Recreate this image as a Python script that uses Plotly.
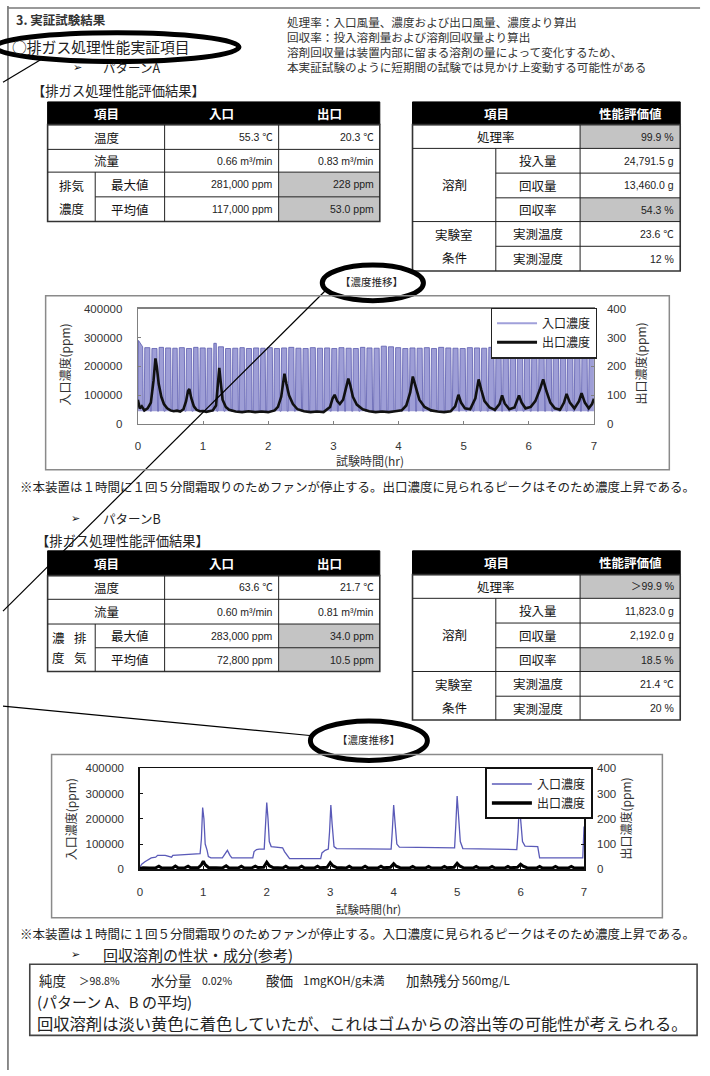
import plotly.graph_objects as go

W, H = 710, 1076
JP = "Noto Sans CJK JP"
LAT = "Liberation Sans, Noto Sans CJK JP"
SYM = "DejaVu Sans"

# ------------------------------------------------------------------ DATA
x_ticks = [0, 1, 2, 3, 4, 5, 6, 7]
left_ticks = [0, 100000, 200000, 300000, 400000]
left_tick_text = ["0", "100000", "200000", "300000", "400000"]
right_ticks = [0, 100, 200, 300, 400]
right_tick_text = ["0", "100", "200", "300", "400"]

# Pattern A inlet (ppm): times (hr) of the short drops and plateau level between drops
a_in_start = [(0.00, 60000), (0.01, 290000)]
a_in_dips = [0.09, 0.20, 0.31, 0.41, 0.52, 0.62, 0.73, 0.84, 0.94, 1.05,
             1.15, 1.22, 1.33, 1.44, 1.55, 1.65, 1.76, 1.87, 1.97, 2.08,
             2.19, 2.30, 2.41, 2.52, 2.63, 2.74, 2.85, 2.96, 3.07, 3.18,
             3.29, 3.40, 3.50, 3.61, 3.72, 3.83, 3.94, 4.05, 4.16, 4.27,
             4.38, 4.49, 4.60, 4.71, 4.82, 4.93, 5.04, 5.15, 5.26, 5.37,
             5.48, 5.59, 5.70, 5.81, 5.92, 6.03, 6.14, 6.25, 6.36, 6.47,
             6.58, 6.69, 6.80, 6.91]
a_in_high = [268000, 265000, 262000, 266000, 264000, 263000, 265000, 262000, 266000, 264000,
             263000, 280000, 268000, 262000, 263000, 265000, 262000, 264000, 263000, 265000,
             262000, 264000, 266000, 263000, 262000, 265000, 263000, 264000, 262000, 265000,
             263000, 262000, 266000, 264000, 263000, 270000, 268000, 265000, 262000, 264000,
             263000, 265000, 262000, 266000, 264000, 263000, 262000, 265000, 264000, 263000,
             266000, 262000, 264000, 265000, 263000, 262000, 264000, 266000, 263000, 262000,
             265000, 264000, 263000, 262000, 265000]
a_in_low = 45000

# Pattern A outlet (ppm)
a_out_pts = [(0.00, 85), (0.03, 55), (0.06, 62), (0.10, 48), (0.15, 55), (0.20, 75), (0.24, 150),
             (0.27, 228), (0.29, 200), (0.32, 140), (0.36, 95), (0.40, 70), (0.45, 55), (0.50, 48),
             (0.55, 45), (0.60, 47), (0.65, 44), (0.70, 52), (0.74, 80), (0.77, 115), (0.79, 122),
             (0.82, 90), (0.86, 62), (0.90, 50), (0.95, 45), (1.00, 46), (1.05, 43), (1.10, 45),
             (1.15, 48), (1.20, 65), (1.23, 130), (1.25, 195), (1.27, 150), (1.30, 85), (1.35, 60),
             (1.40, 50), (1.50, 44), (1.60, 42), (1.70, 45), (1.80, 42), (1.90, 44), (2.00, 42),
             (2.10, 48), (2.15, 60), (2.20, 95), (2.23, 150), (2.25, 175), (2.28, 140), (2.32, 100),
             (2.38, 70), (2.45, 52), (2.55, 45), (2.65, 42), (2.75, 44), (2.85, 42), (2.95, 60),
             (2.99, 90), (3.02, 102), (3.06, 80), (3.10, 70), (3.15, 85), (3.20, 130), (3.23, 158),
             (3.26, 135), (3.30, 95), (3.36, 68), (3.45, 52), (3.55, 45), (3.65, 42), (3.75, 44),
             (3.85, 42), (3.95, 45), (4.05, 48), (4.12, 65), (4.18, 110), (4.22, 165), (4.26, 130),
             (4.32, 85), (4.40, 60), (4.50, 48), (4.60, 44), (4.70, 42), (4.80, 45), (4.87, 62),
             (4.92, 102), (4.96, 75), (5.02, 55), (5.10, 52), (5.18, 90), (5.23, 155), (5.27, 120),
             (5.32, 80), (5.40, 58), (5.48, 50), (5.55, 70), (5.59, 100), (5.63, 72), (5.70, 52),
             (5.78, 58), (5.85, 100), (5.89, 75), (5.95, 55), (6.03, 60), (6.10, 80), (6.17, 120),
             (6.22, 155), (6.27, 115), (6.33, 75), (6.40, 55), (6.48, 50), (6.54, 75), (6.58, 105),
             (6.63, 75), (6.70, 55), (6.77, 80), (6.81, 108), (6.86, 75), (6.92, 55), (6.97, 70),
             (7.00, 88)]

# Pattern B inlet (ppm)
b_in_pts = [(0.00, 8000), (0.03, 20000), (0.08, 30000), (0.12, 35000), (0.18, 45000), (0.25, 48000),
            (0.28, 55000), (0.40, 55000), (0.45, 50000), (0.50, 48000), (0.52, 55000), (0.70, 57000),
            (0.75, 60000), (0.95, 62000), (0.97, 120000), (0.99, 245000), (1.01, 200000),
            (1.03, 100000), (1.06, 75000), (1.08, 50000), (1.12, 45000), (1.30, 45000), (1.34, 60000),
            (1.38, 75000), (1.42, 55000), (1.45, 45000), (1.78, 45000), (1.80, 70000), (1.84, 78000),
            (1.88, 80000), (1.96, 80000), (1.98, 180000), (2.00, 265000), (2.02, 200000),
            (2.04, 110000), (2.07, 90000), (2.20, 88000), (2.25, 85000), (2.28, 70000), (2.33, 50000),
            (2.36, 42000), (2.85, 42000), (2.87, 65000), (2.92, 75000), (2.97, 80000), (2.99, 150000),
            (3.01, 255000), (3.03, 180000), (3.06, 90000), (3.10, 82000), (3.96, 80000),
            (3.98, 160000), (4.00, 255000), (4.02, 190000), (4.05, 100000), (4.09, 88000),
            (4.96, 85000), (4.98, 180000), (5.00, 290000), (5.02, 220000), (5.05, 110000),
            (5.09, 82000), (5.94, 78000), (5.96, 150000), (5.98, 255000), (6.00, 200000),
            (6.03, 110000), (6.07, 92000), (6.27, 90000), (6.30, 45000), (6.98, 45000), (7.00, 170000)]

# Pattern B outlet (ppm)
b_out_pts = [(0.00, 3), (0.05, 6), (0.15, 5), (0.25, 6), (0.30, 12), (0.34, 6), (0.45, 5), (0.52, 6),
             (0.56, 13), (0.60, 6), (0.70, 5), (0.76, 12), (0.80, 6), (0.92, 6), (0.97, 18), (1.00, 32),
             (1.03, 18), (1.08, 7), (1.20, 6), (1.30, 5), (1.36, 14), (1.40, 6), (1.55, 5), (1.60, 12),
             (1.64, 6), (1.76, 5), (1.82, 12), (1.86, 7), (1.95, 8), (2.00, 28), (2.04, 14), (2.10, 7),
             (2.25, 5), (2.30, 12), (2.34, 6), (2.50, 5), (2.55, 12), (2.59, 6), (2.75, 5), (2.80, 12),
             (2.84, 6), (2.95, 8), (3.00, 26), (3.04, 14), (3.10, 7), (3.25, 5), (3.30, 12), (3.34, 6),
             (3.50, 5), (3.55, 12), (3.59, 6), (3.75, 5), (3.80, 12), (3.84, 6), (3.95, 8), (4.00, 22),
             (4.04, 12), (4.10, 6), (4.25, 5), (4.30, 11), (4.34, 6), (4.50, 5), (4.55, 11), (4.59, 6),
             (4.75, 5), (4.80, 11), (4.84, 6), (4.95, 8), (5.00, 24), (5.04, 13), (5.10, 6), (5.25, 5),
             (5.30, 11), (5.34, 6), (5.50, 5), (5.55, 11), (5.59, 6), (5.75, 5), (5.80, 11), (5.84, 6),
             (5.95, 8), (6.00, 20), (6.04, 12), (6.10, 6), (6.25, 5), (6.30, 11), (6.34, 6), (6.50, 5),
             (6.55, 11), (6.59, 6), (6.75, 5), (6.80, 11), (6.84, 6), (7.00, 5)]

# Tables
row_labels_left = ["温度", "流量", "最大値", "平均値"]
a_inlet_vals = ["55.3 ℃", "0.66 m³/min", "281,000 ppm", "117,000 ppm"]
a_outlet_vals = ["20.3 ℃", "0.83 m³/min", "228 ppm", "53.0 ppm"]
b_inlet_vals = ["63.6 ℃", "0.60 m³/min", "283,000 ppm", "72,800 ppm"]
b_outlet_vals = ["21.7 ℃", "0.81 m³/min", "34.0 ppm", "10.5 ppm"]
perf_sub_labels = ["投入量", "回収量", "回収率", "実測温度", "実測湿度"]
a_perf_vals = ["99.9 %", "24,791.5 g", "13,460.0 g", "54.3 %", "23.6 ℃", "12 %"]
b_perf_vals = ["＞99.9 %", "11,823.0 g", "2,192.0 g", "18.5 %", "21.4 ℃", "20 %"]

notes_right = ["処理率：入口風量、濃度および出口風量、濃度より算出",
               "回収率：投入溶剤量および溶剤回収量より算出",
               "溶剤回収量は装置内部に留まる溶剤の量によって変化するため、",
               "本実証試験のように短期間の試験では見かけ上変動する可能性がある"]

# ------------------------------------------------------------------ helpers
shapes, ann = [], []


def X(p):
    return p / W


def Y(p):
    return 1 - p / H


def rect(x0, y0, x1, y1, fill="rgba(0,0,0,0)", lw=1.0, lc="#222"):
    shapes.append(dict(type="rect", xref="paper", yref="paper", x0=X(x0), x1=X(x1),
                       y0=Y(y1), y1=Y(y0), fillcolor=fill, line=dict(width=lw, color=lc)))


def line(x0, y0, x1, y1, lw=1.0, lc="#222"):
    shapes.append(dict(type="line", xref="paper", yref="paper", x0=X(x0), x1=X(x1),
                       y0=Y(y0), y1=Y(y1), line=dict(width=lw, color=lc)))


def ellipse(x0, y0, x1, y1, lw=5):
    shapes.append(dict(type="circle", xref="paper", yref="paper", x0=X(x0), x1=X(x1),
                       y0=Y(y1), y1=Y(y0), line=dict(width=lw, color="#000")))


def txt(x, y, s, size=12, anchor="left", color="#111", fam=JP, angle=0):
    ann.append(dict(xref="paper", yref="paper", x=X(x), y=Y(y), text=s, showarrow=False,
                    xanchor=anchor, yanchor="middle", textangle=angle, borderpad=0, align="left",
                    font=dict(size=size, color=color, family=fam)))


GRAY = "#c4c4c4"


def left_table(ys, inl, outl, vertical_label):
    xs = [45, 93, 163, 278, 380]
    rect(xs[0], ys[0], xs[4], ys[1], fill="#000", lw=1, lc="#000")
    txt((xs[0] + xs[2]) / 2, (ys[0] + ys[1]) / 2, "<b>項目</b>", 12.5, "center", "#fff")
    txt((xs[2] + xs[3]) / 2, (ys[0] + ys[1]) / 2, "<b>入口</b>", 12.5, "center", "#fff")
    txt((xs[3] + xs[4]) / 2, (ys[0] + ys[1]) / 2, "<b>出口</b>", 12.5, "center", "#fff")
    rect(xs[3], ys[3], xs[4], ys[5], fill=GRAY, lw=0, lc=GRAY)
    rect(xs[0], ys[1], xs[4], ys[5], lw=1.6, lc="#333")
    line(xs[0], ys[2], xs[4], ys[2])
    line(xs[0], ys[3], xs[4], ys[3])
    line(xs[1], ys[4], xs[4], ys[4])
    line(xs[2], ys[1], xs[2], ys[5])
    line(xs[3], ys[1], xs[3], ys[5])
    line(xs[1], ys[3], xs[1], ys[5])
    for i in range(4):
        cy = (ys[i + 1] + ys[i + 2]) / 2
        if i < 2:
            txt((xs[0] + xs[2]) / 2, cy, row_labels_left[i], 12.5, "center")
        else:
            txt((xs[1] + xs[2]) / 2, cy, row_labels_left[i], 12.5, "center")
        txt(xs[3] - 5, cy, inl[i], 10.5, "right", "#222", LAT)
        txt(xs[4] - 5, cy, outl[i], 10.5, "right", "#222", LAT)
    c1, c2 = (ys[3] + ys[4]) / 2, (ys[4] + ys[5]) / 2
    if vertical_label:
        for ch, px, py in [("濃", 56, c1 + 2), ("排", 78, c1 + 2), ("度", 56, c2 - 2), ("気", 78, c2 - 2)]:
            txt(px, py, ch, 12.5, "center")
    else:
        txt((xs[0] + xs[1]) / 2, c1 + 1, "排気", 12.5, "center")
        txt((xs[0] + xs[1]) / 2, c2 - 1, "濃度", 12.5, "center")


def right_table(ys, vals):
    xs = [413, 497, 582, 683]
    rect(xs[0], ys[0], xs[3], ys[1], fill="#000", lw=1, lc="#000")
    txt((xs[0] + xs[2]) / 2, (ys[0] + ys[1]) / 2, "<b>項目</b>", 12.5, "center", "#fff")
    txt((xs[2] + xs[3]) / 2, (ys[0] + ys[1]) / 2, "<b>性能評価値</b>", 12.5, "center", "#fff")
    rect(xs[2], ys[1], xs[3], ys[2], fill=GRAY, lw=0, lc=GRAY)
    rect(xs[2], ys[4], xs[3], ys[5], fill=GRAY, lw=0, lc=GRAY)
    rect(xs[0], ys[1], xs[3], ys[7], lw=1.6, lc="#333")
    line(xs[0], ys[2], xs[3], ys[2])
    line(xs[1], ys[3], xs[3], ys[3])
    line(xs[1], ys[4], xs[3], ys[4])
    line(xs[0], ys[5], xs[3], ys[5])
    line(xs[1], ys[6], xs[3], ys[6])
    line(xs[2], ys[1], xs[2], ys[7])
    line(xs[1], ys[2], xs[1], ys[7])
    txt((xs[0] + xs[2]) / 2, (ys[1] + ys[2]) / 2, "処理率", 12.5, "center")
    txt((xs[0] + xs[1]) / 2, (ys[2] + ys[5]) / 2, "溶剤", 12.5, "center")
    txt((xs[0] + xs[1]) / 2, (ys[5] + ys[6]) / 2 + 1, "実験室", 12.5, "center")
    txt((xs[0] + xs[1]) / 2, (ys[6] + ys[7]) / 2 - 1, "条件", 12.5, "center")
    txt(xs[3] - 5, (ys[1] + ys[2]) / 2, vals[0], 10.5, "right", "#222", LAT)
    for i in range(5):
        cy = (ys[i + 2] + ys[i + 3]) / 2
        txt((xs[1] + xs[2]) / 2, cy, perf_sub_labels[i], 12.5, "center")
        txt(xs[3] - 5, cy, vals[i + 1], 10.5, "right", "#222", LAT)


# ------------------------------------------------------------------ page texts
line(5, 0, 5, H, lw=1.5, lc="#666")
line(5, 2, 703, 2, lw=1.5, lc="#777")

txt(12, 14, "<b>3. 実証試験結果</b>", 12.5, color="#333")
txt(8, 41, "○排ガス処理性能実証項目", 14.8, color="#222")
ellipse(-8, 27, 238, 56)
line(40, 53, 0, 77, lw=1.2, lc="#000")
txt(70, 62, "➢", 11, fam=SYM)
txt(100, 62, "パターンA", 12.5, color="#222")
txt(28, 85, "【排ガス処理性能評価結果】", 13.3, color="#222")
txt(285, 38.5, "<br>".join(notes_right), 11.6, color="#333")

left_table([97, 120, 145, 168, 193, 218], a_inlet_vals, a_outlet_vals, False)
right_table([97, 120, 144, 169, 194, 218, 243, 268], a_perf_vals)

txt(372, 279, "【濃度推移】", 10.5, "center", "#222")
ellipse(322, 262, 424, 298)
line(325, 288, 0, 612, lw=1.2, lc="#000")

txt(16, 486, "※本装置は１時間に１回５分間霜取りのためファンが停止する。出口濃度に見られるピークはそのため濃度上昇である。",
    12.5, color="#222")

txt(68, 518, "➢", 11, fam=SYM)
txt(100, 518, "パターンB", 12.5, color="#222")
txt(32, 541, "【排ガス処理性能評価結果】", 13.3, color="#222")

left_table([551, 576, 600, 625, 649, 673], b_inlet_vals, b_outlet_vals, True)
right_table([551, 575, 599, 624, 649, 673, 698, 722], b_perf_vals)

txt(369, 742, "【濃度推移】", 10.5, "center", "#222")
ellipse(310, 723, 428, 763)
line(312, 738, 0, 708, lw=1.2, lc="#000")

txt(16, 938, "※本装置は１時間に１回５分間霜取りのためファンが停止する。入口濃度に見られるピークはそのため濃度上昇である。",
    12.5, color="#222")

txt(68, 959, "➢", 11, fam=SYM)
txt(100, 959, "回収溶剤の性状・成分(参考)", 15, color="#222")
rect(27, 969, 700, 1041, lw=1.6, lc="#444")
for px, s, sz in [(35, "純度", 13.5), (76, "＞98.8%", 10.5), (148, "水分量", 13.5), (200, "0.02%", 10.5),
                  (264, "酸価", 13.5), (302, "1mgKOH/g未満", 11.5), (405, "加熱残分", 13.5), (462, "560mg/L", 11.5)]:
    txt(px, 985, s, sz, color="#222")
txt(33, 1007, "(パターン A、B の平均)", 15, color="#222")
txt(33, 1028, "回収溶剤は淡い黄色に着色していたが、これはゴムからの溶出等の可能性が考えられる。", 16.3, color="#222")

# ------------------------------------------------------------------ chart frames & axis titles
rect(43, 293, 672, 469, lw=1.5, lc="#8a8a8a")
rect(49, 757, 665, 922, lw=1.5, lc="#8a8a8a")

txt(62, 362, "入口濃度(ppm)", 12, "center", "#333", angle=-90)
txt(643, 362, "出口濃度(ppm)", 12, "center", "#333", angle=-90)
txt(370, 460, "試験時間(hr)", 12, "center", "#333")
txt(68, 822, "入口濃度(ppm)", 12, "center", "#333", angle=-90)
txt(628, 822, "出口濃度(ppm)", 12, "center", "#333", angle=-90)
txt(369, 913, "試験時間(hr)", 11.5, "center", "#333")

# ------------------------------------------------------------------ traces
a_in_t = [p[0] for p in a_in_start]
a_in_v = [p[1] for p in a_in_start]
for i, d in enumerate(a_in_dips):
    a_in_t += [d - 0.016, d - 0.007, d + 0.007]
    a_in_v += [a_in_high[i], a_in_low, a_in_low]
    a_in_t.append(d + 0.016)
    a_in_v.append(a_in_high[i + 1])
a_in_t.append(7.0)
a_in_v.append(a_in_high[-1])

fig = go.Figure()
fig.add_trace(go.Scatter(x=[0, 7], y=[a_in_low, a_in_low], mode="lines", line=dict(width=0),
                         showlegend=False, hoverinfo="skip", xaxis="x", yaxis="y"))
fig.add_trace(go.Scatter(x=a_in_t, y=a_in_v, mode="lines", fill="tonexty",
                         fillcolor="rgba(158,158,214,1)", line=dict(color="#5c5cae", width=0.8),
                         showlegend=False, xaxis="x", yaxis="y"))
fig.add_trace(go.Scatter(x=[p[0] for p in a_out_pts], y=[p[1] for p in a_out_pts], mode="lines",
                         line=dict(color="#111", width=2.6), showlegend=False, xaxis="x", yaxis="y2"))
fig.add_trace(go.Scatter(x=[None], y=[None], mode="lines", name="入口濃度",
                         line=dict(color="#a0a0da", width=2), legend="legend", xaxis="x", yaxis="y"))
fig.add_trace(go.Scatter(x=[None], y=[None], mode="lines", name="出口濃度",
                         line=dict(color="#111", width=3), legend="legend", xaxis="x", yaxis="y"))

fig.add_trace(go.Scatter(x=[p[0] for p in b_in_pts], y=[p[1] for p in b_in_pts], mode="lines",
                         line=dict(color="#5a5ab8", width=1.3), showlegend=False, xaxis="x2", yaxis="y3"))
fig.add_trace(go.Scatter(x=[p[0] for p in b_out_pts], y=[p[1] for p in b_out_pts], mode="lines",
                         line=dict(color="#000", width=3), showlegend=False, xaxis="x2", yaxis="y4"))
fig.add_trace(go.Scatter(x=[None], y=[None], mode="lines", name="入口濃度",
                         line=dict(color="#5a5ab8", width=1.5), legend="legend2", xaxis="x2", yaxis="y3"))
fig.add_trace(go.Scatter(x=[None], y=[None], mode="lines", name="出口濃度",
                         line=dict(color="#000", width=3.5), legend="legend2", xaxis="x2", yaxis="y3"))

tickfont = dict(size=11.5, color="#333", family=LAT)


def xax(dom, anchor, lc, lw, standoff):
    return dict(domain=dom, anchor=anchor, range=[0, 7], tickvals=x_ticks, ticks="inside", ticklen=3,
                tickcolor=lc, showline=True, mirror=True, linecolor=lc, linewidth=lw, showgrid=False,
                zeroline=False, tickfont=tickfont, ticklabelstandoff=standoff, fixedrange=True)


def yax(dom, anchor, lc, vals, texts, **kw):
    d = dict(anchor=anchor, range=[0, vals[-1]], tickvals=vals, ticktext=texts, ticks="inside",
             ticklen=3, tickcolor=lc, showgrid=False, zeroline=False, tickfont=tickfont,
             fixedrange=True)
    if dom is not None:
        d["domain"] = dom
    d.update(kw)
    return d


fig.update_layout(
    width=W, height=H, margin=dict(l=0, r=0, t=0, b=0),
    paper_bgcolor="white", plot_bgcolor="white",
    xaxis=xax([X(136), X(596)], "y", "#808080", 1.2, 11),
    yaxis=yax([Y(423), Y(306)], "x", "#808080", left_ticks, left_tick_text,
              showline=True, mirror=True, linecolor="#808080", linewidth=1.2, ticklabelstandoff=12),
    yaxis2=yax(None, "x", "#808080", right_ticks, right_tick_text, overlaying="y", side="right",
               showline=False, ticklabelstandoff=12),
    xaxis2=xax([X(138), X(586)], "y3", "#111", 1.6, 11),
    yaxis3=yax([Y(873), Y(771)], "x2", "#111", left_ticks, left_tick_text,
               showline=True, mirror=True, linecolor="#111", linewidth=1.6, ticklabelstandoff=12),
    yaxis4=yax(None, "x2", "#111", right_ticks, right_tick_text, overlaying="y3", side="right",
               showline=False, ticklabelstandoff=12),
    legend=dict(x=X(492), y=Y(305), xanchor="left", yanchor="top", bgcolor="white",
                bordercolor="#222", borderwidth=1.2, font=dict(size=12, family=JP, color="#222"),
                tracegroupgap=0, itemwidth=40, traceorder="normal"),
    legend2=dict(x=X(486), y=Y(770), xanchor="left", yanchor="top", bgcolor="white",
                 bordercolor="#111", borderwidth=2, font=dict(size=12, family=JP, color="#222"),
                 tracegroupgap=0, itemwidth=40, traceorder="normal"),
    shapes=shapes, annotations=ann, hovermode=False,
)

fig.write_html("out.html", config={"displayModeBar": False, "staticPlot": True},
               post_script="document.body.style.margin='0px';document.body.style.overflow='hidden';")
